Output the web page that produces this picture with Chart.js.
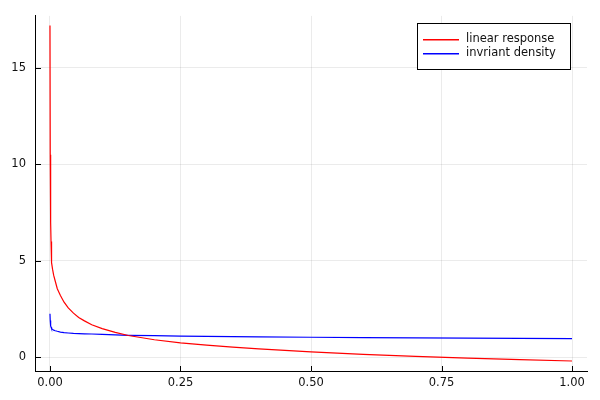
<!DOCTYPE html>
<html>
<head>
<meta charset="utf-8">
<script src="https://cdn.jsdelivr.net/npm/chart.js@4"></script>
<style>
  body { margin: 0; background: #fff; }
</style>
</head>
<body>
<canvas id="plot" width="600" height="400"></canvas>
<script>
// data
const xs = [0, 0.0005, 0.001, 0.0015, 0.002, 0.0025, 0.0035, 0.005, 0.007, 0.01, 0.014, 0.02, 0.027, 0.035, 0.045, 0.055, 0.066, 0.08, 0.1, 0.125, 0.15, 0.2, 0.25, 0.3, 0.35, 0.4, 0.5, 0.6, 0.7, 0.8, 0.9, 1.0];
const linearResponse = [17.2, 10.5, 8.3, 7.0, 6.0, 5.4, 4.9, 4.55, 4.25, 3.95, 3.55, 3.2, 2.85, 2.55, 2.28, 2.06, 1.88, 1.68, 1.48, 1.28, 1.12, 0.90, 0.74, 0.62, 0.52, 0.43, 0.27, 0.14, 0.04, -0.05, -0.13, -0.20];
const invariantDensity = [2.25, 1.9, 1.72, 1.62, 1.56, 1.52, 1.48, 1.44, 1.40, 1.37, 1.34, 1.30, 1.27, 1.25, 1.23, 1.22, 1.21, 1.20, 1.18, 1.15, 1.13, 1.11, 1.09, 1.08, 1.06, 1.05, 1.03, 1.01, 1.00, 0.99, 0.97, 0.96];
const seriesNames = ['linear response', 'invriant density'];
const seriesColors = ['#ff0000', '#0000ff'];
const xTicks = [0, 0.25, 0.5, 0.75, 1];
const yTicks = [0, 5, 10, 15];

const tickFont = { family: 'DejaVu Sans', size: 11.5 };

function pts(ys) {
  return xs.map(function (x, i) { return { x: x, y: ys[i] }; });
}

// ticks point inward, like the original
const innerTicks = {
  id: 'innerTicks',
  afterDraw(chart) {
    const c = chart.ctx, a = chart.chartArea;
    const sx = chart.scales.x, sy = chart.scales.y;
    c.save();
    c.strokeStyle = '#000';
    c.lineWidth = 1;
    c.beginPath();
    xTicks.forEach(function (v) {
      const px = Math.round(sx.getPixelForValue(v)) + 0.5;
      c.moveTo(px, a.bottom);
      c.lineTo(px, a.bottom - 5);
    });
    yTicks.forEach(function (v) {
      const py = Math.round(sy.getPixelForValue(v)) + 0.5;
      c.moveTo(a.left, py);
      c.lineTo(a.left + 6, py);
    });
    c.stroke();
    c.restore();
  }
};

// legend box in the top right corner
const boxLegend = {
  id: 'boxLegend',
  afterDraw(chart) {
    const c = chart.ctx;
    const x0 = 417, y0 = 23, w = 153, h = 46;
    c.save();
    c.fillStyle = '#fff';
    c.fillRect(x0, y0, w, h);
    c.strokeStyle = '#000';
    c.lineWidth = 1;
    c.strokeRect(x0 + 0.5, y0 + 0.5, w, h);
    c.font = '11.5px "DejaVu Sans"';
    c.textBaseline = 'middle';
    for (let i = 0; i < seriesNames.length; i++) {
      const y = y0 + 16 + i * 14;
      c.fillStyle = seriesColors[i];
      c.fillRect(x0 + 6, y, 36, 1.5);
      c.fillStyle = '#111';
      c.fillText(seriesNames[i], x0 + 49, y);
    }
    c.restore();
  }
};

const config = {
  type: 'line',
  data: {
    datasets: [{
      label: seriesNames[0],
      data: pts(linearResponse),
      borderColor: seriesColors[0],
      borderWidth: 1.2,
      pointRadius: 0,
      tension: 0
    }, {
      label: seriesNames[1],
      data: pts(invariantDensity),
      borderColor: seriesColors[1],
      borderWidth: 1.2,
      pointRadius: 0,
      tension: 0
    }]
  },
  options: {
    responsive: false,
    animation: false,
    layout: { padding: { top: 12, right: 13, left: 0, bottom: 0 } },
    scales: {
      x: {
        type: 'linear',
        min: -0.0287,
        max: 1.0287,
        afterBuildTicks: function (s) { s.ticks = xTicks.map(function (v) { return { value: v }; }); },
        afterFit: function (s) { s.height = 29; },
        grid: { color: 'rgba(0,0,0,0.08)', drawTicks: false },
        border: { display: true, color: '#000', width: 1 },
        ticks: {
          font: tickFont, color: '#111', padding: 5, maxRotation: 0,
          callback: function (v) { return v.toFixed(2); }
        }
      },
      y: {
        min: -0.72,
        max: 17.7,
        afterBuildTicks: function (s) { s.ticks = yTicks.map(function (v) { return { value: v }; }); },
        afterFit: function (s) { s.width = 35; },
        grid: { color: 'rgba(0,0,0,0.08)', drawTicks: false },
        border: { display: true, color: '#000', width: 1 },
        ticks: {
          font: tickFont, color: '#111', padding: 9,
          callback: function (v) { return String(v); }
        }
      }
    },
    plugins: {
      legend: { display: false },
      tooltip: { enabled: false }
    }
  },
  plugins: [innerTicks, boxLegend]
};

new Chart(document.getElementById('plot'), config);
</script>
</body>
</html>
